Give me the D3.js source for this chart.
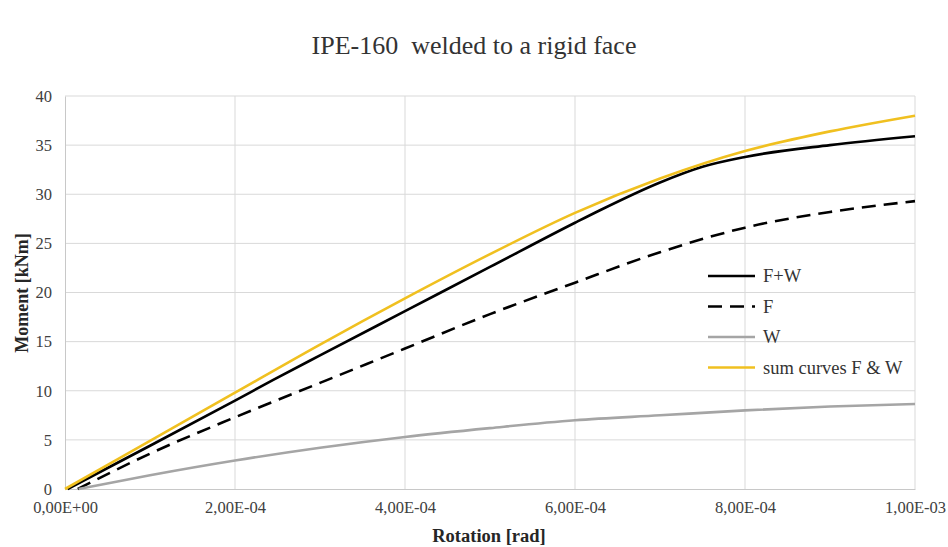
<!DOCTYPE html>
<html>
<head>
<meta charset="utf-8">
<script src="https://cdn.jsdelivr.net/npm/d3@7"></script>
<style>
  body { margin: 0; background: #fff; }
  svg { display: block; font-family: "Liberation Serif", "Times New Roman", serif; }
</style>
</head>
<body>
<svg id="chart" width="948" height="547"></svg>
<script>
// rotation [rad] values
const rotFW  = [0.3e-5, 1e-4, 2e-4, 2.45e-4, 3e-4, 4e-4, 5e-4, 6e-4, 6.3e-4, 7e-4, 7.5e-4, 8e-4, 9e-4, 1e-3];
const momFW  = [0, 4.4, 9.0, 11.1, 13.6, 18.1, 22.6, 27.1, 28.4, 31.2, 32.8, 33.8, 35.0, 35.9];

const rotF   = [1.5e-5, 1e-4, 2e-4, 3e-4, 4e-4, 5e-4, 6e-4, 7e-4, 8e-4, 9e-4, 1e-3];
const momF   = [0, 3.6, 7.3, 10.8, 14.3, 17.8, 21.0, 24.1, 26.6, 28.2, 29.3];

const rotW   = [1.6e-5, 1e-4, 2e-4, 3e-4, 4e-4, 5e-4, 6e-4, 7e-4, 8e-4, 9e-4, 1e-3];
const momW   = [0, 1.4, 2.9, 4.2, 5.3, 6.2, 7.0, 7.5, 8.0, 8.4, 8.65];

const rotSum = [0, 1e-4, 2e-4, 3e-4, 4e-4, 5e-4, 6e-4, 7e-4, 8e-4, 9e-4, 1e-3];
const momSum = [0, 4.9, 9.8, 14.7, 19.4, 23.9, 28.1, 31.6, 34.4, 36.4, 38.0];

const xTicks = [0, 2e-4, 4e-4, 6e-4, 8e-4, 1e-3];
const xTickLabels = ['0,00E+00', '2,00E-04', '4,00E-04', '6,00E-04', '8,00E-04', '1,00E-03'];
const yTicks = [0, 5, 10, 15, 20, 25, 30, 35, 40];

const series = [
  { name: 'F+W', x: rotFW, y: momFW, color: '#000000', dash: null },
  { name: 'F', x: rotF, y: momF, color: '#000000', dash: '14,8' },
  { name: 'W', x: rotW, y: momW, color: '#a5a5a5', dash: null },
  { name: 'sum curves F & W', x: rotSum, y: momSum, color: '#f0c020', dash: null }
];

const svg = d3.select('#chart');
const margin = { top: 96, right: 33, bottom: 58, left: 65 };
const width = 948 - margin.left - margin.right;
const height = 547 - margin.top - margin.bottom;

const x = d3.scaleLinear().domain([0, 1e-3]).range([0, width]);
const y = d3.scaleLinear().domain([0, 40]).range([height, 0]);

// title
svg.append('text')
  .attr('x', 474)
  .attr('y', 54)
  .attr('text-anchor', 'middle')
  .style('font-size', '26px')
  .style('fill', '#333')
  .text('IPE-160\u00a0 welded to a rigid face');

const g = svg.append('g')
  .attr('transform', `translate(${margin.left},${margin.top})`);

// gridlines
g.append('g')
  .selectAll('line')
  .data(yTicks.slice(1))
  .join('line')
  .attr('x1', 0).attr('x2', width)
  .attr('y1', d => y(d)).attr('y2', d => y(d))
  .attr('stroke', '#d9d9d9');

g.append('g')
  .selectAll('line')
  .data(xTicks.slice(1))
  .join('line')
  .attr('y1', 0).attr('y2', height)
  .attr('x1', d => x(d)).attr('x2', d => x(d))
  .attr('stroke', '#d9d9d9');

// axes
const xAxis = g.append('g')
  .attr('transform', `translate(0,${height})`)
  .call(d3.axisBottom(x).tickValues(xTicks).tickFormat((d, i) => xTickLabels[i]).tickSize(0).tickPadding(12));
const yAxis = g.append('g')
  .call(d3.axisLeft(y).tickValues(yTicks).tickSize(0).tickPadding(13));

[xAxis, yAxis].forEach(a => {
  a.select('.domain').attr('stroke', '#c8c8c8');
  a.selectAll('text')
    .style('font-family', '"Liberation Serif", "Times New Roman", serif')
    .style('font-size', '16.5px')
    .style('fill', '#404040');
});

// lines
const line = d3.line()
  .x(d => x(d[0]))
  .y(d => y(d[1]))
  .curve(d3.curveMonotoneX);

series.forEach(s => {
  g.append('path')
    .datum(s.x.map((v, i) => [v, s.y[i]]))
    .attr('fill', 'none')
    .attr('stroke', s.color)
    .attr('stroke-width', 2.6)
    .attr('stroke-dasharray', s.dash)
    .attr('d', line);
});

// axis titles
svg.append('text')
  .attr('x', 489)
  .attr('y', 542)
  .attr('text-anchor', 'middle')
  .style('font-size', '18.5px')
  .style('font-weight', 'bold')
  .style('fill', '#262626')
  .text('Rotation [rad]');

svg.append('text')
  .attr('transform', 'translate(28,293) rotate(-90)')
  .attr('text-anchor', 'middle')
  .style('font-size', '18px')
  .style('font-weight', 'bold')
  .style('fill', '#262626')
  .text('Moment [kNm]');

// legend
const legend = svg.append('g')
  .attr('transform', 'translate(708,276)');

const items = legend.selectAll('g')
  .data(series)
  .join('g')
  .attr('transform', (d, i) => `translate(0,${i * 30.5})`);

items.append('line')
  .attr('x1', 0).attr('x2', 47)
  .attr('stroke', d => d.color)
  .attr('stroke-width', 2.6)
  .attr('stroke-dasharray', d => d.dash);

items.append('text')
  .attr('x', 55)
  .attr('y', 6)
  .style('font-size', '18.5px')
  .style('fill', '#333')
  .text(d => d.name);
</script>
</body>
</html>
